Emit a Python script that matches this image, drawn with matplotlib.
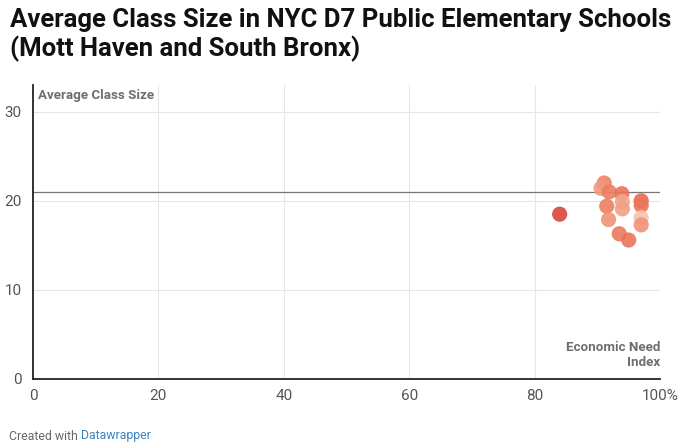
import matplotlib.pyplot as plt

# Economic Need Index (%) vs average class size, one point per school
need_index = [84.0, 91.1, 90.6, 91.9, 93.9, 91.5, 94.0, 94.0, 97.0, 97.0, 97.0, 97.0, 91.8, 93.5, 95.0]
class_size = [18.5, 22.0, 21.4, 21.0, 20.8, 19.4, 19.9, 19.1, 20.0, 19.5, 18.1, 17.3, 17.9, 16.3, 15.6]
colors = ['#d9473b', '#ee8466', '#f09a7c', '#ec7d60', '#e9735a', '#ec7f62', '#f3a68a', '#f1a084',
          '#e86a52', '#ea7559', '#f7c3ad', '#f0937a', '#f09478', '#ea7a5e', '#e97459']

avg_line = 21.0
x_ticks = [0, 20, 40, 60, 80, 100]
x_labels = ['0', '20', '40', '60', '80', '100%']
y_ticks = [0, 10, 20, 30]

plt.rcParams['font.family'] = ['Roboto', 'DejaVu Sans']

fig = plt.figure(figsize=(6.8, 4.43), dpi=100)
ax = fig.add_axes([33/680, 1 - 379/443, 627/680, (379 - 85)/443])

ax.set_xlim(0, 100)
ax.set_ylim(0, 33)

for t in x_ticks[1:]:
    ax.axvline(t, color='#e6e6e6', lw=0.8, zorder=0)
for t in y_ticks[1:]:
    ax.axhline(t, color='#e6e6e6', lw=0.8, zorder=0)

ax.axhline(avg_line, color='#777777', lw=0.9, zorder=1)

ax.scatter(need_index, class_size, s=120, c=colors, alpha=0.9, edgecolors='none', zorder=3)

for side in ['top', 'right']:
    ax.spines[side].set_visible(False)
ax.spines['left'].set_color('#222222')
ax.spines['left'].set_linewidth(1.3)
ax.spines['bottom'].set_color('#222222')
ax.spines['bottom'].set_linewidth(1.3)

ax.set_xticks(x_ticks)
ax.set_xticklabels(x_labels)
ax.set_yticks(y_ticks)
ax.tick_params(length=0, labelsize=11, colors='#555555', pad=7)
ax.tick_params(axis='y', pad=8)
labels = ax.get_xticklabels()
labels[-1].set_horizontalalignment('center')

ax.text(0.8, 32.5, 'Average Class Size', fontsize=9.6, fontweight='bold', color='#6e6e6e',
        va='top', ha='left')
ax.text(100, 2.7, 'Economic Need\nIndex', fontsize=9.6, fontweight='bold', color='#6e6e6e',
        va='center', ha='right', linespacing=1.2)

fig.text(10/680, 1 - 20/443, 'Average Class Size in NYC D7 Public Elementary Schools',
         fontsize=18.5, fontweight='bold', color='#111111', va='center', ha='left')
fig.text(10/680, 1 - 49/443, '(Mott Haven and South Bronx)',
         fontsize=18.5, fontweight='bold', color='#111111', va='center', ha='left')

fig.text(9/680, 1 - 436/443, 'Created with', fontsize=8.8, color='#666666', va='center', ha='left')
fig.text(81/680, 1 - 436/443, 'Datawrapper', fontsize=8.8, color='#3a85c4', va='center', ha='left')

fig.savefig('out.png', dpi=100)
